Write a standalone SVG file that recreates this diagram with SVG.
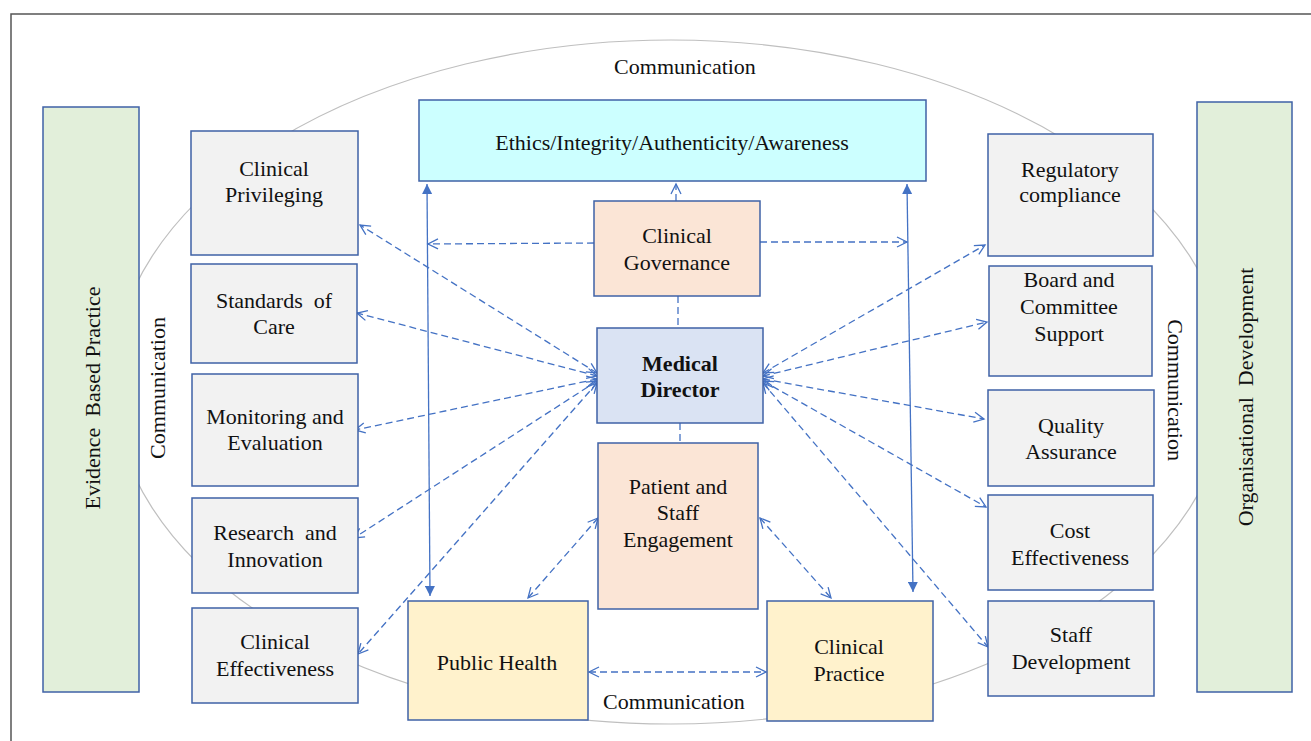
<svg xmlns="http://www.w3.org/2000/svg" width="1311" height="741" viewBox="0 0 1311 741">
  <style>
    .t { font-family: "Liberation Serif", "Times New Roman", serif; font-size: 22px; fill: #111; text-anchor: middle; }
    .b { font-weight: bold; }
    .box { stroke: #3f62a6; stroke-width: 1.5; }
    .gray { fill: #f2f2f2; }
    .green { fill: #e2efda; }
    .cyan { fill: #ccffff; }
    .peach { fill: #fbe5d6; }
    .blue { fill: #dae3f3; }
    .yellow { fill: #fff2cc; }
    .dash { fill: none; stroke: #4472c4; stroke-width: 1.3; stroke-dasharray: 7 4; }
    .solid { fill: none; stroke: #4472c4; stroke-width: 1.3; }
  </style>
  <defs>
    <marker id="open" markerUnits="userSpaceOnUse" markerWidth="14" markerHeight="14" refX="11" refY="6" orient="auto-start-reverse" viewBox="0 0 14 12">
      <path d="M1,1 L11,6 L1,11" fill="none" stroke="#4472c4" stroke-width="1.3"/>
    </marker>
    <marker id="fill" markerUnits="userSpaceOnUse" markerWidth="12" markerHeight="10" refX="10" refY="5" orient="auto-start-reverse" viewBox="0 0 12 10">
      <path d="M0,0 L10,5 L0,10 Z" fill="#4472c4"/>
    </marker>
  </defs>

  <rect width="1311" height="741" fill="#ffffff"/>
  <!-- frame -->
  <rect x="11" y="14" width="1330" height="760" fill="none" stroke="#555" stroke-width="1.5"/>

  <!-- communication ring -->
  <ellipse cx="671" cy="382" rx="558" ry="342" fill="none" stroke="#bfbfbf" stroke-width="1.2"/>

  <g id="label-comm-top"><text class="t" x="685" y="74">Communication</text></g>
  <g id="label-comm-bottom"><text class="t" x="674" y="709">Communication</text></g>
  <g id="label-comm-left"><text class="t" transform="translate(157,388) rotate(-90)" dominant-baseline="central">Communication</text></g>
  <g id="label-comm-right"><text class="t" transform="translate(1175,390) rotate(90)" dominant-baseline="central">Communication</text></g>

  <!-- side pillars -->
  <g id="evidence-based-practice">
    <rect class="box green" x="43" y="107" width="96" height="585"/>
    <text class="t" transform="translate(92,398) rotate(-90)" dominant-baseline="central">Evidence&#160; Based Practice</text>
  </g>
  <g id="organisational-development">
    <rect class="box green" x="1197" y="102" width="95" height="590"/>
    <text class="t" transform="translate(1245,397) rotate(-90)" dominant-baseline="central">Organisational&#160; Development</text>
  </g>

  <!-- connectors -->
  <g id="connectors">
    <!-- governance links -->
    <path class="dash" d="M676,201 L676,184" marker-end="url(#open)"/>
    <path class="dash" d="M678,296 L678,328"/>
    <path class="dash" d="M680,423 L680,443"/>
    <path class="dash" d="M594,243 L428,244" marker-end="url(#open)"/>
    <path class="dash" d="M760,242 L907,242" marker-end="url(#open)"/>
    <!-- solid verticals -->
    <path class="solid" d="M427,184 L430,596" marker-start="url(#fill)" marker-end="url(#fill)"/>
    <path class="solid" d="M907,184 L913,592" marker-start="url(#fill)" marker-end="url(#fill)"/>
    <!-- medical director to left boxes -->
    <path class="dash" d="M597,373 L360,225" marker-start="url(#open)" marker-end="url(#open)"/>
    <path class="dash" d="M597,376 L357,313" marker-start="url(#open)" marker-end="url(#open)"/>
    <path class="dash" d="M597,379 L355,430" marker-start="url(#open)" marker-end="url(#open)"/>
    <path class="dash" d="M597,381 L354,538" marker-start="url(#open)" marker-end="url(#open)"/>
    <path class="dash" d="M597,383 L358,654" marker-start="url(#open)" marker-end="url(#open)"/>
    <!-- medical director to right boxes -->
    <path class="dash" d="M763,373 L985,245" marker-start="url(#open)" marker-end="url(#open)"/>
    <path class="dash" d="M763,376 L987,322" marker-start="url(#open)" marker-end="url(#open)"/>
    <path class="dash" d="M763,379 L984,419" marker-start="url(#open)" marker-end="url(#open)"/>
    <path class="dash" d="M763,381 L986,507" marker-start="url(#open)" marker-end="url(#open)"/>
    <path class="dash" d="M763,383 L988,647" marker-start="url(#open)" marker-end="url(#open)"/>
    <!-- engagement and practice links -->
    <path class="dash" d="M598,518 L528,598" marker-start="url(#open)" marker-end="url(#open)"/>
    <path class="dash" d="M760,518 L831,598" marker-start="url(#open)" marker-end="url(#open)"/>
    <path class="dash" d="M589,672 L766,672" marker-start="url(#open)" marker-end="url(#open)"/>
  </g>

  <!-- left column -->
  <g id="clinical-privileging">
    <rect class="box gray" x="191" y="131" width="167" height="124"/>
    <text class="t" x="274" y="176">Clinical</text>
    <text class="t" x="274" y="202">Privileging</text>
  </g>
  <g id="standards-of-care">
    <rect class="box gray" x="191" y="264" width="166" height="99"/>
    <text class="t" x="274" y="308">Standards&#160; of</text>
    <text class="t" x="274" y="334">Care</text>
  </g>
  <g id="monitoring-evaluation">
    <rect class="box gray" x="192" y="374" width="166" height="112"/>
    <text class="t" x="275" y="424">Monitoring and</text>
    <text class="t" x="275" y="450">Evaluation</text>
  </g>
  <g id="research-innovation">
    <rect class="box gray" x="192" y="498" width="166" height="95"/>
    <text class="t" x="275" y="540">Research&#160; and</text>
    <text class="t" x="275" y="567">Innovation</text>
  </g>
  <g id="clinical-effectiveness">
    <rect class="box gray" x="192" y="608" width="166" height="95"/>
    <text class="t" x="275" y="649">Clinical</text>
    <text class="t" x="275" y="676">Effectiveness</text>
  </g>

  <!-- centre column -->
  <g id="ethics">
    <rect class="box cyan" x="419" y="100" width="507" height="81"/>
    <text class="t" x="672" y="150">Ethics/Integrity/Authenticity/Awareness</text>
  </g>
  <g id="clinical-governance">
    <rect class="box peach" x="594" y="201" width="166" height="95"/>
    <text class="t" x="677" y="243">Clinical</text>
    <text class="t" x="677" y="270">Governance</text>
  </g>
  <g id="medical-director">
    <rect class="box blue" x="597" y="328" width="166" height="95"/>
    <text class="t b" x="680" y="371">Medical</text>
    <text class="t b" x="680" y="397">Director</text>
  </g>
  <g id="patient-staff-engagement">
    <rect class="box peach" x="598" y="443" width="160" height="166"/>
    <text class="t" x="678" y="494">Patient and</text>
    <text class="t" x="678" y="520">Staff</text>
    <text class="t" x="678" y="547">Engagement</text>
  </g>
  <g id="public-health">
    <rect class="box yellow" x="408" y="601" width="180" height="119"/>
    <text class="t" x="497" y="670">Public Health</text>
  </g>
  <g id="clinical-practice">
    <rect class="box yellow" x="767" y="601" width="166" height="120"/>
    <text class="t" x="849" y="654">Clinical</text>
    <text class="t" x="849" y="681">Practice</text>
  </g>

  <!-- right column -->
  <g id="regulatory-compliance">
    <rect class="box gray" x="988" y="134" width="165" height="122"/>
    <text class="t" x="1070" y="177">Regulatory</text>
    <text class="t" x="1070" y="202">compliance</text>
  </g>
  <g id="board-committee-support">
    <rect class="box gray" x="989" y="266" width="163" height="110"/>
    <text class="t" x="1069" y="287">Board and</text>
    <text class="t" x="1069" y="314">Committee</text>
    <text class="t" x="1069" y="341">Support</text>
  </g>
  <g id="quality-assurance">
    <rect class="box gray" x="988" y="390" width="166" height="96"/>
    <text class="t" x="1071" y="433">Quality</text>
    <text class="t" x="1071" y="459">Assurance</text>
  </g>
  <g id="cost-effectiveness">
    <rect class="box gray" x="988" y="495" width="165" height="95"/>
    <text class="t" x="1070" y="538">Cost</text>
    <text class="t" x="1070" y="565">Effectiveness</text>
  </g>
  <g id="staff-development">
    <rect class="box gray" x="988" y="601" width="166" height="95"/>
    <text class="t" x="1071" y="642">Staff</text>
    <text class="t" x="1071" y="669">Development</text>
  </g>
</svg>
